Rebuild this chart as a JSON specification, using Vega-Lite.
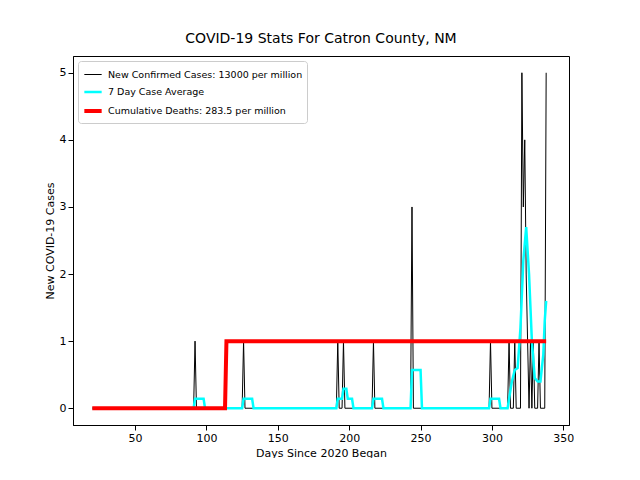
{
  "$schema": "https://vega.github.io/schema/vega-lite/v6.json",
  "width": 496,
  "height": 369,
  "padding": {"left": 44, "top": 32, "right": 0, "bottom": 0},
  "background": "white",
  "title": {"text": "COVID-19 Stats For Catron County, NM", "fontSize": 14, "fontWeight": "normal", "font": "DejaVu Sans", "color": "black", "offset": 10},
  "config": {"font": "DejaVu Sans", "view": {"stroke": "black"}, "axis": {"labelFontSize": 11, "titleFontSize": 11, "titleFontWeight": "normal", "labelColor": "black", "titleColor": "black", "grid": false, "domainColor": "black", "tickColor": "black"}},
  "data": {"values": [
    {"day": 20, "value": 0, "s": "a"}, {"day": 91, "value": 0, "s": "a"}, {"day": 92, "value": 1, "s": "a"}, {"day": 93, "value": 0, "s": "a"},
    {"day": 125, "value": 0, "s": "a"}, {"day": 126, "value": 1, "s": "a"}, {"day": 127, "value": 0, "s": "a"},
    {"day": 191, "value": 0, "s": "a"}, {"day": 192, "value": 1, "s": "a"}, {"day": 193, "value": 0, "s": "a"},
    {"day": 195, "value": 0, "s": "a"}, {"day": 196, "value": 1, "s": "a"}, {"day": 197, "value": 0, "s": "a"},
    {"day": 216, "value": 0, "s": "a"}, {"day": 217, "value": 1, "s": "a"}, {"day": 218, "value": 0, "s": "a"},
    {"day": 243, "value": 0, "s": "a"}, {"day": 244, "value": 3, "s": "a"}, {"day": 245, "value": 0, "s": "a"},
    {"day": 298, "value": 0, "s": "a"}, {"day": 299, "value": 1, "s": "a"}, {"day": 300, "value": 0, "s": "a"},
    {"day": 311, "value": 0, "s": "a"}, {"day": 312, "value": 1, "s": "a"}, {"day": 313, "value": 0, "s": "a"},
    {"day": 315, "value": 0, "s": "a"}, {"day": 316, "value": 1, "s": "a"}, {"day": 317, "value": 0, "s": "a"},
    {"day": 320, "value": 0, "s": "a"}, {"day": 321, "value": 5, "s": "a"}, {"day": 322, "value": 3, "s": "a"},
    {"day": 323, "value": 4, "s": "a"}, {"day": 324, "value": 2, "s": "a"}, {"day": 325, "value": 1, "s": "a"},
    {"day": 326, "value": 0, "s": "a"}, {"day": 327, "value": 1, "s": "a"}, {"day": 328, "value": 0, "s": "a"},
    {"day": 329, "value": 1, "s": "a"}, {"day": 330, "value": 0, "s": "a"}, {"day": 332, "value": 0, "s": "a"},
    {"day": 333, "value": 1, "s": "a"}, {"day": 334, "value": 0, "s": "a"}, {"day": 337, "value": 0, "s": "a"},
    {"day": 338, "value": 5, "s": "a"},
    {"day": 20, "value": 0, "s": "b"}, {"day": 91, "value": 0, "s": "b"}, {"day": 92, "value": 0.14, "s": "b"}, {"day": 98, "value": 0.14, "s": "b"}, {"day": 99, "value": 0, "s": "b"},
    {"day": 125, "value": 0, "s": "b"}, {"day": 126, "value": 0.14, "s": "b"}, {"day": 132, "value": 0.14, "s": "b"}, {"day": 133, "value": 0, "s": "b"},
    {"day": 191, "value": 0, "s": "b"}, {"day": 192, "value": 0.14, "s": "b"}, {"day": 195, "value": 0.14, "s": "b"}, {"day": 196, "value": 0.29, "s": "b"},
    {"day": 198, "value": 0.29, "s": "b"}, {"day": 199, "value": 0.14, "s": "b"}, {"day": 202, "value": 0.14, "s": "b"}, {"day": 203, "value": 0, "s": "b"},
    {"day": 216, "value": 0, "s": "b"}, {"day": 217, "value": 0.14, "s": "b"}, {"day": 223, "value": 0.14, "s": "b"}, {"day": 224, "value": 0, "s": "b"},
    {"day": 243, "value": 0, "s": "b"}, {"day": 244, "value": 0.57, "s": "b"}, {"day": 250, "value": 0.57, "s": "b"}, {"day": 251, "value": 0, "s": "b"},
    {"day": 298, "value": 0, "s": "b"}, {"day": 299, "value": 0.14, "s": "b"}, {"day": 305, "value": 0.14, "s": "b"}, {"day": 306, "value": 0, "s": "b"},
    {"day": 311, "value": 0, "s": "b"}, {"day": 312, "value": 0.14, "s": "b"}, {"day": 314, "value": 0.4, "s": "b"}, {"day": 316, "value": 0.57, "s": "b"},
    {"day": 318, "value": 0.6, "s": "b"}, {"day": 320, "value": 1.2, "s": "b"}, {"day": 322, "value": 2.2, "s": "b"}, {"day": 324, "value": 2.7, "s": "b"},
    {"day": 326, "value": 2.0, "s": "b"}, {"day": 328, "value": 1.0, "s": "b"}, {"day": 330, "value": 0.45, "s": "b"}, {"day": 332, "value": 0.4, "s": "b"},
    {"day": 334, "value": 0.4, "s": "b"}, {"day": 336, "value": 0.8, "s": "b"}, {"day": 337, "value": 1.3, "s": "b"}, {"day": 338, "value": 1.6, "s": "b"},
    {"day": 20, "value": 0, "s": "c"}, {"day": 113, "value": 0, "s": "c"}, {"day": 114, "value": 1, "s": "c"}, {"day": 338, "value": 1, "s": "c"}
  ]},
  "mark": {"type": "line", "clip": true},
  "encoding": {
    "x": {"field": "day", "type": "quantitative", "title": "Days Since 2020 Began", "scale": {"domain": [6.5, 354], "nice": false, "zero": false}, "axis": {"values": [50, 100, 150, 200, 250, 300, 350]}},
    "y": {"field": "value", "type": "quantitative", "title": "New COVID-19 Cases", "scale": {"domain": [-0.25, 5.25], "nice": false, "zero": false}, "axis": {"values": [0, 1, 2, 3, 4, 5]}},
    "color": {"field": "s", "type": "nominal", "scale": {"domain": ["a", "b", "c"], "range": ["black", "cyan", "red"]},
      "legend": {"orient": "top-left", "title": null, "labelExpr": "datum.value == 'a' ? 'New Confirmed Cases: 13000 per million' : datum.value == 'b' ? '7 Day Case Average' : 'Cumulative Deaths: 283.5 per million'", "labelLimit": 0, "symbolType": "stroke", "symbolSize": 300, "labelFontSize": 9.5, "strokeColor": "#ccc", "fillColor": "white", "padding": 4, "cornerRadius": 3, "offset": 5, "rowPadding": 3}},
    "strokeWidth": {"field": "s", "type": "nominal", "scale": {"domain": ["a", "b", "c"], "range": [1, 4, 4]}, "legend": null},
    "order": {"field": "s"}
  }
}
